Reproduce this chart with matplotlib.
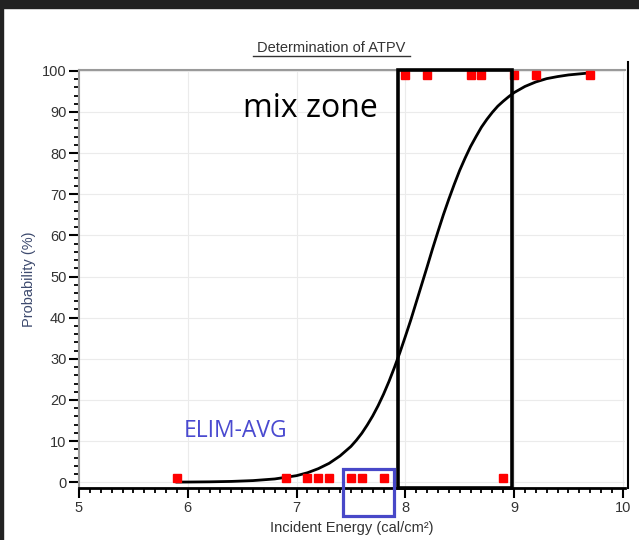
import matplotlib
matplotlib.use("Agg")
import matplotlib.pyplot as plt
from matplotlib.lines import Line2D
from matplotlib.patches import Rectangle
from matplotlib.ticker import MultipleLocator

# test results: incident energy (cal/cm2) and burn outcome probability (%)
no_burn_x = [5.9, 6.9, 7.1, 7.2, 7.3, 7.5, 7.6, 7.8, 8.9]
no_burn_y = [1, 1, 1, 1, 1, 1, 1, 1, 1]
burn_x = [8.0, 8.2, 8.6, 8.7, 9.0, 9.2, 9.7]
burn_y = [99, 99, 99, 99, 99, 99, 99]

# fitted probability curve
curve_x = [5.9, 6.0, 6.2, 6.4, 6.6, 6.7, 6.8, 6.9, 7.0, 7.1, 7.2, 7.3, 7.4, 7.5,
           7.55, 7.6, 7.65, 7.7, 7.75, 7.8, 7.85, 7.9, 7.95, 8.0, 8.05, 8.1,
           8.15, 8.2, 8.25, 8.3, 8.35, 8.4, 8.45, 8.5, 8.55, 8.6, 8.65, 8.7,
           8.75, 8.8, 8.85, 8.9, 8.95, 9.0, 9.1, 9.2, 9.3, 9.4, 9.5, 9.7]
curve_y = [0.04, 0.05, 0.1, 0.2, 0.4, 0.6, 0.8, 1.2, 1.6, 2.3, 3.3, 4.6, 6.4, 8.7,
           10.2, 11.9, 13.9, 16.1, 18.6, 21.4, 24.5, 27.9, 31.5, 35.4, 39.4, 43.7,
           48.0, 52.3, 56.7, 60.9, 65.0, 68.8, 72.4, 75.8, 78.8, 81.6, 84.0, 86.3,
           88.2, 89.9, 91.4, 92.6, 93.7, 94.7, 96.2, 97.3, 98.1, 98.6, 99.0, 99.5]

mix_zone = (7.93, 8.98)
elim_avg = (7.43, 7.90, -8.3, 3.2)

fig = plt.figure(figsize=(6.39, 5.4), dpi=100)
# dark screenshot border
fig.patches.append(Rectangle((0, 1 - 8 / 540), 1, 8 / 540, transform=fig.transFigure,
                             color="#222222", zorder=0))
fig.patches.append(Rectangle((0, 0), 3 / 639, 1, transform=fig.transFigure,
                             color="#222222", zorder=0))

ax = fig.add_axes([79 / 639, 52 / 540, 546 / 639, 418 / 540])
ax.set_xlim(5, 10.02)
ax.set_ylim(-1.4, 100.2)

ax.xaxis.set_major_locator(MultipleLocator(1))
ax.xaxis.set_minor_locator(MultipleLocator(0.1))
ax.yaxis.set_major_locator(MultipleLocator(10))
ax.yaxis.set_minor_locator(MultipleLocator(2))
ax.grid(True, which="major", color="#ebebeb", linewidth=0.8, zorder=0)

ax.tick_params(which="major", direction="out", length=7, width=1.5, color="black",
               labelsize=10.5, labelcolor="#333333", pad=2)
ax.tick_params(which="minor", direction="out", length=3.5, width=1.3, color="black")

for name in ("left", "top"):
    ax.spines[name].set_color("#9a9a9a")
    ax.spines[name].set_linewidth(1.5)
ax.spines["bottom"].set_color("black")
ax.spines["bottom"].set_linewidth(2)
ax.spines["right"].set_visible(False)

ax.plot(curve_x, curve_y, color="black", linewidth=2, zorder=3)
ax.plot(no_burn_x, no_burn_y, "s", color="red", markersize=5.5, zorder=4, clip_on=False)
ax.plot(burn_x, burn_y, "s", color="red", markersize=5.5, zorder=4, clip_on=False)

ax.add_patch(Rectangle((mix_zone[0], -1.4), mix_zone[1] - mix_zone[0], 101.6,
                       fill=False, edgecolor="black", linewidth=2.6, zorder=5,
                       clip_on=False))
ax.add_patch(Rectangle((elim_avg[0], elim_avg[2]), elim_avg[1] - elim_avg[0],
                       elim_avg[3] - elim_avg[2], fill=False, edgecolor="#4848c8",
                       linewidth=2.3, zorder=5, clip_on=False))

ax.text(7.13, 88.8, "mix zone", fontsize=23, family="Open Sans", color="black",
        ha="center", va="baseline", zorder=6)
ax.text(5.967, 10.9, "ELIM-AVG", fontsize=16.5, family="Open Sans", color="#4a4ad0",
        ha="left", va="baseline", zorder=6)

ax.set_xlabel("Incident Energy (cal/cm²)", fontsize=10.5, color="#333333",
              family="Liberation Sans", labelpad=5)
ax.set_ylabel("Probability (%)", fontsize=10.5, color="#3d4a6e",
              family="Liberation Sans", labelpad=4)
for lab in ax.get_xticklabels() + ax.get_yticklabels():
    lab.set_family("Liberation Sans")

# title with underline
fig.text(331 / 639, 1 - 52 / 540, "Determination of ATPV", fontsize=10.5,
         family="Liberation Sans", color="#333333", ha="center", va="baseline")
fig.add_artist(Line2D([253 / 639, 410 / 639], [1 - 56 / 540, 1 - 56 / 540],
                      transform=fig.transFigure, color="#333333", linewidth=1))

# right edge line of the plot frame
fig.add_artist(Line2D([628 / 639, 628 / 639], [1 - 62 / 540, 1 - 488 / 540],
                      transform=fig.transFigure, color="black", linewidth=1.5))

fig.savefig("out.png", dpi=100)
